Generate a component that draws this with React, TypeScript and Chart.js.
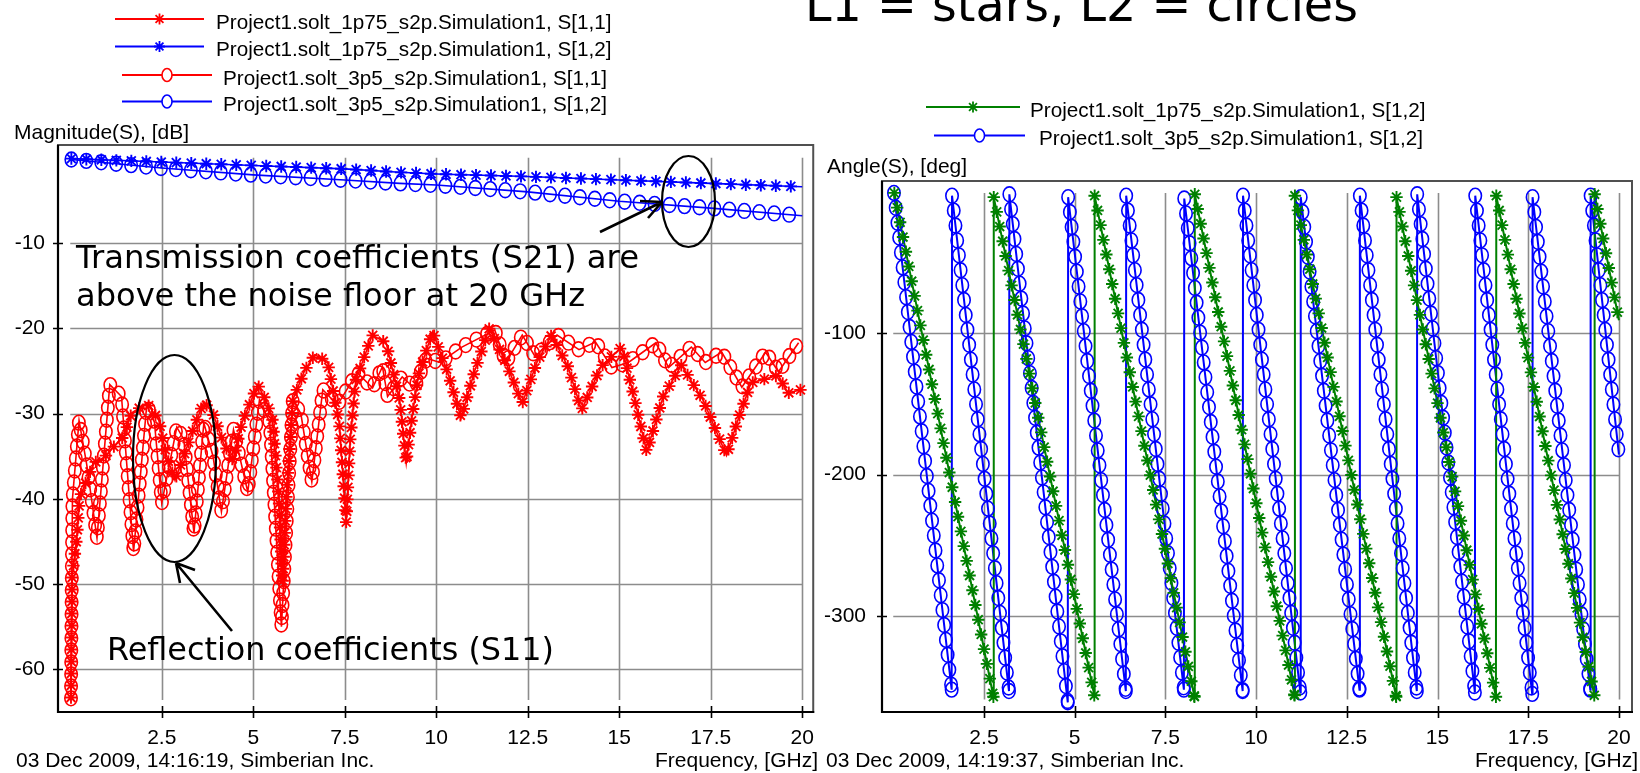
import React, { useEffect, useRef } from "react";
import { Chart, registerables } from "chart.js";
Chart.register(...registerables);

// ---------------- DATA ----------------
const FREQ_TICKS = [2.5, 5, 7.5, 10, 12.5, 15, 17.5, 20];
const MAG_TICKS = [-10, -20, -30, -40, -50, -60];
const ANG_TICKS = [-100, -200, -300];

const MAG_LABELS = [
  "Project1.solt_1p75_s2p.Simulation1, S[1,1]",
  "Project1.solt_1p75_s2p.Simulation1, S[1,2]",
  "Project1.solt_3p5_s2p.Simulation1, S[1,1]",
  "Project1.solt_3p5_s2p.Simulation1, S[1,2]",
];
const ANG_LABELS = [
  "Project1.solt_1p75_s2p.Simulation1, S[1,2]",
  "Project1.solt_3p5_s2p.Simulation1, S[1,2]",
];

// 1p75 S[1,1] (red stars)
const S11_1P75_FREQ = [0.02, 0.05, 0.18, 0.26, 0.64, 0.94, 1.27, 1.46, 1.68, 2.1, 2.42, 2.64, 2.86, 3.1, 3.38, 3.65, 3.9, 4.19, 4.45, 4.7, 5.12, 5.35, 5.53, 5.7, 5.8, 5.9, 6.08, 6.4, 6.68, 7.03, 7.35, 7.54, 7.65, 7.8, 8.25, 8.63, 9.0, 9.18, 9.35, 9.53, 9.9, 10.3, 10.68, 11.05, 11.45, 11.9, 12.35, 12.75, 13.15, 13.6, 13.97, 14.5, 15.07, 15.4, 15.75, 16.2, 16.7, 17.3, 17.93, 18.3, 18.6, 19.35, 19.6, 19.97];
const S11_1P75_DB = [-63.3, -49.2, -44.5, -39.8, -35.8, -35.1, -33.5, -32.7, -29.9, -28.8, -30.8, -35.1, -37.8, -35.0, -31.6, -28.6, -30.0, -33.5, -35.5, -31.0, -26.6, -28.5, -30.8, -40.0, -50.0, -40.0, -28.4, -25.0, -23.1, -23.9, -31.1, -42.8, -33.0, -26.1, -20.8, -21.7, -28.4, -35.8, -30.0, -25.2, -20.4, -25.0, -30.5, -25.0, -20.0, -24.0, -28.8, -24.0, -20.8, -24.5, -29.6, -24.5, -22.2, -28.0, -34.5, -28.0, -24.3, -28.5, -34.9, -30.0, -26.4, -25.5, -27.6, -27.2];

// 1p75 S[1,2] (blue stars)
const S12_1P75_FREQ = [0.03, 2.5, 5, 7.5, 9.0, 10, 12.5, 15, 17.5, 20];
const S12_1P75_DB = [-0.1, -0.5, -0.9, -1.3, -1.7, -1.9, -2.2, -2.6, -3.0, -3.4];

// 3p5 S[1,1] (red circles)
const S11_3P5_FREQ = [0.02, 0.04, 0.06, 0.24, 0.45, 0.73, 1.08, 1.4, 1.73, 2.09, 2.3, 2.5, 2.91, 3.1, 3.38, 3.65, 3.9, 4.13, 4.46, 4.85, 5.17, 5.45, 5.77, 6.08, 6.3, 6.6, 6.9, 7.3, 7.84, 8.26, 8.53, 8.67, 9.07, 9.4, 9.73, 10.1, 10.7, 11.6, 11.9, 12.35, 12.7, 13.3, 13.9, 14.35, 14.8, 15.25, 16.0, 16.35, 16.97, 17.35, 17.8, 18.35, 19.0, 19.35, 19.9];
const S11_3P5_DB = [-63.4, -50.0, -40.0, -30.8, -36.0, -44.6, -26.6, -28.0, -46.2, -29.0, -31.0, -40.5, -31.6, -33.0, -44.0, -31.1, -35.0, -41.5, -31.9, -39.2, -28.4, -31.0, -55.0, -28.4, -30.0, -38.0, -27.2, -29.0, -25.2, -27.0, -24.5, -28.0, -25.7, -27.0, -23.5, -24.0, -22.2, -20.2, -24.0, -20.8, -23.3, -20.8, -22.5, -21.6, -24.6, -24.0, -21.7, -24.6, -22.2, -24.0, -22.8, -26.9, -22.8, -25.1, -21.7];

// 3p5 S[1,2] (blue circles)
const S12_3P5_FREQ = [0.03, 2.5, 5, 7.5, 9.0, 10, 12.5, 15, 17.5, 20];
const S12_3P5_DB = [-0.2, -1.2, -2.0, -2.6, -3.0, -3.2, -4.0, -5.1, -5.9, -6.8];

// Phase 1p75 S[1,2] (green stars)
const ANG_1P75_FREQ = [0.03, 2.76, 2.77, 5.54, 5.55, 8.3, 8.31, 11.06, 11.07, 13.86, 13.87, 16.61, 16.62, 19.32, 19.33, 20.0];
const ANG_1P75_DEG = [-1, -357, -4, -356, -3, -357, -2, -356, -3, -357, -4, -357, -3, -356, -2, -91];

// Phase 3p5 S[1,2] (blue circles)
const ANG_3P5_FREQ = [0.02, 1.61, 1.62, 3.19, 3.2, 4.81, 4.82, 6.41, 6.42, 8.01, 8.02, 9.63, 9.64, 11.22, 11.23, 12.85, 12.86, 14.43, 14.44, 16.03, 16.04, 17.61, 17.62, 19.21, 19.22, 20.0];
const ANG_3P5_DEG = [-1, -352, -3, -353, -2, -361, -4, -353, -3, -352, -5, -353, -3, -354, -4, -352, -3, -353, -2, -354, -3, -355, -4, -352, -3, -186];

// ---------------- STYLE ----------------
const RED = "#ff0000";
const BLUE = "#0000ff";
const GREEN = "#008000";
const SANS = "'Liberation Sans', Arial, sans-serif";
const VERD = "'DejaVu Sans', Verdana, sans-serif";

const pts = (f: number[], v: number[]) => f.map((x, i) => ({ x, y: v[i] }));

function drawMarker(ctx: CanvasRenderingContext2D, type: string, x: number, y: number, color: string, size: number) {
  ctx.strokeStyle = color;
  ctx.beginPath();
  if (type === "circle") {
    ctx.lineWidth = 1.6;
    ctx.ellipse(x, y, size, size + 1.2, 0, 0, Math.PI * 2);
  } else {
    ctx.lineWidth = 1.9;
    const r = size, d = r * 0.72;
    ctx.moveTo(x - r, y); ctx.lineTo(x + r, y);
    ctx.moveTo(x, y - r); ctx.lineTo(x, y + r);
    ctx.moveTo(x - d, y - d); ctx.lineTo(x + d, y + d);
    ctx.moveTo(x - d, y + d); ctx.lineTo(x + d, y - d);
  }
  ctx.stroke();
}

const markerPlugin = {
  id: "pathMarkers",
  afterDatasetsDraw(chart: any) {
    const { ctx, chartArea: a } = chart;
    ctx.save();
    ctx.beginPath();
    ctx.rect(a.left, a.top, a.right - a.left, a.bottom - a.top);
    ctx.clip();
    for (let i = chart.data.datasets.length - 1; i >= 0; i--) {
      const ds: any = chart.data.datasets[i];
      const p = chart.getDatasetMeta(i).data;
      const sp = ds.markerSpacing || 15;
      const jump = ds.wrapJump || 0;
      const mk = (x: number, y: number) => drawMarker(ctx, ds.markerType, x, y, ds.borderColor, ds.markerSize || 5.5);
      mk(p[0].x, p[0].y);
      let acc = 0;
      for (let k = 1; k < p.length; k++) {
        const v0 = ds.data[k - 1].y, v1 = ds.data[k].y;
        if (jump && v1 - v0 > jump) {
          // phase wrap: the jump back to the top carries no markers
          mk(p[k - 1].x, p[k - 1].y);
          mk(p[k].x, p[k].y);
          acc = 0;
          continue;
        }
        const dx = p[k].x - p[k - 1].x, dy = p[k].y - p[k - 1].y;
        const len = Math.hypot(dx, dy);
        if (len === 0) continue;
        let t = sp - acc;
        let last = -acc;
        while (t <= len) {
          mk(p[k - 1].x + (dx * t) / len, p[k - 1].y + (dy * t) / len);
          last = t;
          t += sp;
        }
        acc = len - last;
      }
    }
    ctx.restore();
  },
};

const gridFramePlugin = {
  id: "gridFrame",
  beforeDatasetsDraw(chart: any, _a: any, o: any) {
    const { ctx } = chart;
    const xs = chart.scales.x, ys = chart.scales.y;
    const gx0 = xs.getPixelForValue(o.gx[0]), gx1 = xs.getPixelForValue(o.gx[1]);
    const gyT = ys.getPixelForValue(o.gy[1]), gyB = ys.getPixelForValue(o.gy[0]);
    ctx.save();
    ctx.strokeStyle = "#8c8c8c";
    ctx.lineWidth = 1.6;
    ctx.beginPath();
    for (const v of o.xTicks) {
      const x = Math.round(xs.getPixelForValue(v)) + 0.5;
      ctx.moveTo(x, gyT); ctx.lineTo(x, gyB);
    }
    for (const v of o.yTicks) {
      const y = Math.round(ys.getPixelForValue(v)) + 0.5;
      ctx.moveTo(gx0, y); ctx.lineTo(gx1, y);
    }
    ctx.stroke();
    ctx.restore();
  },
  afterDraw(chart: any, _a: any, o: any) {
    const { ctx, chartArea: a } = chart;
    const xs = chart.scales.x, ys = chart.scales.y;
    ctx.save();
    ctx.strokeStyle = "#505050";
    ctx.lineWidth = 2;
    ctx.strokeRect(a.left, a.top, a.right - a.left, a.bottom - a.top);
    ctx.strokeStyle = "#000";
    ctx.lineWidth = 2.2;
    ctx.beginPath();
    ctx.moveTo(a.left, a.top); ctx.lineTo(a.left, a.bottom); ctx.lineTo(a.right + 1, a.bottom);
    ctx.stroke();
    ctx.lineWidth = 1.6;
    ctx.beginPath();
    for (const v of o.xTicks) {
      const x = Math.round(xs.getPixelForValue(v)) + 0.5;
      ctx.moveTo(x, a.bottom - 6); ctx.lineTo(x, a.bottom + 6);
    }
    for (const v of o.yTicks) {
      const y = Math.round(ys.getPixelForValue(v)) + 0.5;
      ctx.moveTo(a.left - 5, y); ctx.lineTo(a.left + 5, y);
    }
    ctx.stroke();
    ctx.restore();
  },
};

function makeScales(xr: number[], yr: number[], yTicks: number[], yWidth: number, yPad: number) {
  const font = { family: SANS, size: 21 };
  return {
    x: {
      type: "linear",
      min: xr[0],
      max: xr[1],
      grid: { display: false },
      border: { display: false },
      afterBuildTicks: (s: any) => { s.ticks = FREQ_TICKS.map((v) => ({ value: v })); },
      afterFit: (s: any) => { s.height = 40; },
      ticks: { font, color: "#000", padding: 6, maxRotation: 0, autoSkip: false, callback: (v: any) => String(v) },
    },
    y: {
      type: "linear",
      min: yr[0],
      max: yr[1],
      grid: { display: false },
      border: { display: false },
      afterBuildTicks: (s: any) => { s.ticks = yTicks.map((v) => ({ value: v })); },
      afterFit: (s: any) => { s.width = yWidth; },
      ticks: { font, color: "#000", padding: yPad, autoSkip: false, callback: (v: any) => String(v) },
    },
  };
}

function line(label: string, f: number[], v: number[], color: string, marker: string, width: number, extra: any = {}) {
  return {
    label,
    data: pts(f, v),
    borderColor: color,
    backgroundColor: color,
    borderWidth: width,
    pointRadius: 0,
    tension: 0,
    fill: false,
    markerType: marker,
    markerSpacing: 15,
    markerSize: marker === "circle" ? 6.2 : 6.2,
    ...extra,
  };
}

function useChart(ref: React.RefObject<HTMLCanvasElement>, cfg: () => any) {
  useEffect(() => {
    if (!ref.current) return;
    const c = new Chart(ref.current, cfg());
    return () => c.destroy();
  }, []);
}

function MagChart() {
  const ref = useRef<HTMLCanvasElement>(null);
  useChart(ref, () => ({
    type: "line",
    data: {
      datasets: [
        line(MAG_LABELS[0], S11_1P75_FREQ, S11_1P75_DB, RED, "star", 1.6, { markerSpacing: 12 }),
        line(MAG_LABELS[1], S12_1P75_FREQ, S12_1P75_DB, BLUE, "star", 1.6),
        line(MAG_LABELS[2], S11_3P5_FREQ, S11_3P5_DB, RED, "circle", 1.6, { markerSpacing: 12 }),
        line(MAG_LABELS[3], S12_3P5_FREQ, S12_3P5_DB, BLUE, "circle", 1.6),
      ],
    },
    options: {
      animation: false,
      responsive: false,
      events: [],
      layout: { padding: { left: 0, top: 145, right: 5, bottom: 21 } },
      plugins: {
        legend: { display: false },
        tooltip: { enabled: false },
        gridFrame: { gx: [0, 20], gy: [-63.6, 0], xTicks: FREQ_TICKS, yTicks: MAG_TICKS },
      },
      scales: makeScales([-0.335, 20.3], [-65.0, 1.5], MAG_TICKS, 58, 5),
    },
    plugins: [gridFramePlugin, markerPlugin],
  }));
  return <canvas ref={ref} width={820} height={773} style={{ position: "absolute", left: 0, top: 0, width: 820, height: 773 }} />;
}

function AngChart() {
  const ref = useRef<HTMLCanvasElement>(null);
  useChart(ref, () => ({
    type: "line",
    data: {
      datasets: [
        line(ANG_LABELS[0], ANG_1P75_FREQ, ANG_1P75_DEG, GREEN, "star", 2, { wrapJump: 180 }),
        line(ANG_LABELS[1], ANG_3P5_FREQ, ANG_3P5_DEG, BLUE, "circle", 2, { wrapJump: 180 }),
      ],
    },
    options: {
      animation: false,
      responsive: false,
      events: [],
      layout: { padding: { left: 0, top: 181, right: 8, bottom: 21 } },
      plugins: {
        legend: { display: false },
        tooltip: { enabled: false },
        gridFrame: { gx: [0, 20], gy: [-359, -1], xTicks: FREQ_TICKS, yTicks: ANG_TICKS },
      },
      scales: makeScales([-0.31, 20.36], [-367.8, 7.4], ANG_TICKS, 62, 8),
    },
    plugins: [gridFramePlugin, markerPlugin],
  }));
  return <canvas ref={ref} width={820} height={773} style={{ position: "absolute", left: 820, top: 0, width: 820, height: 773 }} />;
}

function LegendMark({ x1, x2, y, color, type }: { x1: number; x2: number; y: number; color: string; type: string }) {
  const cx = (x1 + x2) / 2;
  const r = 5.5, d = r * 0.72;
  return (
    <g stroke={color} fill="none">
      <line x1={x1} y1={y} x2={x2} y2={y} strokeWidth={2} />
      {type === "circle" ? (
        <ellipse cx={cx} cy={y} rx={5} ry={6.5} strokeWidth={1.6} fill="#fff" />
      ) : (
        <path strokeWidth={1.8} d={`M${cx - r} ${y}H${cx + r}M${cx} ${y - r}V${y + r}M${cx - d} ${y - d}L${cx + d} ${y + d}M${cx - d} ${y + d}L${cx + d} ${y - d}`} />
      )}
    </g>
  );
}

function Overlay() {
  const t = { fontFamily: SANS, fontSize: 20.7, fill: "#000" } as any;
  const big = { fontFamily: VERD, fontSize: 31.5, fill: "#000" } as any;
  const magRows = [
    { y: 19, x1: 115, x2: 204, tx: 216, color: RED, type: "star" },
    { y: 46.5, x1: 115, x2: 204, tx: 216, color: BLUE, type: "star" },
    { y: 75, x1: 122, x2: 212, tx: 223, color: RED, type: "circle" },
    { y: 101.5, x1: 122, x2: 212, tx: 223, color: BLUE, type: "circle" },
  ];
  const angRows = [
    { y: 107, x1: 926, x2: 1020, tx: 1030, color: GREEN, type: "star" },
    { y: 135.5, x1: 934, x2: 1025, tx: 1039, color: BLUE, type: "circle" },
  ];
  return (
    <svg width={1640} height={773} style={{ position: "absolute", left: 0, top: 0, pointerEvents: "none" }}>
      <text x={805} y={21} fontFamily={VERD} fontSize={47.5} textLength={553} lengthAdjust="spacingAndGlyphs">L1 = stars, L2 = circles</text>
      {magRows.map((r, i) => (
        <g key={"m" + i}>
          <LegendMark x1={r.x1} x2={r.x2} y={r.y} color={r.color} type={r.type} />
          <text x={r.tx} y={r.y + 9.5} {...t}>{MAG_LABELS[i]}</text>
        </g>
      ))}
      {angRows.map((r, i) => (
        <g key={"a" + i}>
          <LegendMark x1={r.x1} x2={r.x2} y={r.y} color={r.color} type={r.type} />
          <text x={r.tx} y={r.y + 9.5} {...t}>{ANG_LABELS[i]}</text>
        </g>
      ))}
      <text x={14} y={139} {...t} fontSize={21}>Magnitude(S), [dB]</text>
      <text x={827} y={172.5} {...t} fontSize={21}>Angle(S), [deg]</text>
      <text x={16} y={767} {...t} fontSize={21}>03 Dec 2009, 14:16:19, Simberian Inc.</text>
      <text x={818} y={767} {...t} fontSize={21} textAnchor="end">Frequency, [GHz]</text>
      <text x={826} y={767} {...t} fontSize={21}>03 Dec 2009, 14:19:37, Simberian Inc.</text>
      <text x={1638} y={767} {...t} fontSize={21} textAnchor="end">Frequency, [GHz]</text>

      <text x={76} y={268} {...big} textLength={563} lengthAdjust="spacingAndGlyphs">Transmission coefficients (S21) are</text>
      <text x={76} y={306} {...big} textLength={509} lengthAdjust="spacingAndGlyphs">above the noise floor at 20 GHz</text>
      <text x={107} y={660} {...big} textLength={447} lengthAdjust="spacingAndGlyphs">Reflection coefficients (S11)</text>

      <g stroke="#000" fill="none" strokeWidth={2.2}>
        <ellipse cx={688.5} cy={201.5} rx={26.5} ry={45.5} />
        <ellipse cx={174.5} cy={458.5} rx={41.5} ry={103.5} />
        <path strokeWidth={2.6} d="M600 232L662 202M662 202L640 201M662 202L648 218" />
        <path strokeWidth={2.6} d="M232 631L176 563M176 563L195 570M176 563L180 583" />
      </g>
    </svg>
  );
}

export default function App() {
  return (
    <div style={{ position: "fixed", left: 0, top: 0, width: 1640, height: 773, background: "#fff", overflow: "hidden" }}>
      <MagChart />
      <AngChart />
      <Overlay />
    </div>
  );
}
